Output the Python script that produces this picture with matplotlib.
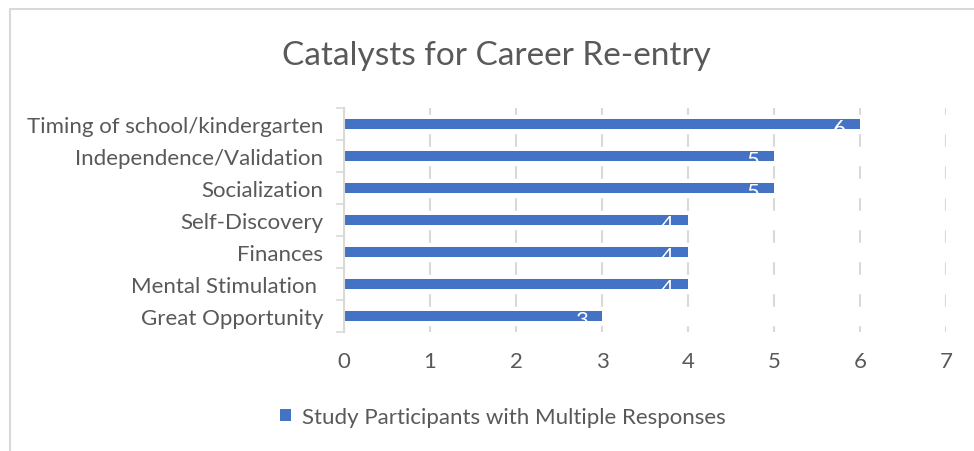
import matplotlib.pyplot as plt
from matplotlib.patches import Rectangle
import numpy as np

# Catalysts and counts (top to bottom as shown)
catalysts = ['Timing of school/kindergarten', 'Independence/Validation', 'Socialization',
             'Self-Discovery', 'Finances', 'Mental Stimulation ', 'Great Opportunity']
counts = [6, 5, 5, 4, 4, 4, 3]
series_name = 'Study Participants with Multiple Responses'

blue = '#4472C4'
grey_text = '#595959'
grid_col = '#D9D9D9'
plt.rcParams['font.family'] = ['Lato', 'DejaVu Sans']

fig = plt.figure(figsize=(9.74, 4.52), dpi=100)
ax = fig.add_axes([344 / 974, 1 - 333 / 452, (946 - 344) / 974, (333 - 109) / 452])

y = np.arange(len(catalysts))[::-1]
ax.set_xlim(0, 7)
ax.set_ylim(-0.5, len(catalysts) - 0.5)

# vertical gridlines, broken by a white band around each bar row
ax.set_axisbelow(True)
ax.set_xticks(range(0, 8))
ax.xaxis.grid(True, color=grid_col, linewidth=1.5)
for yi in y:
    ax.axhspan(yi - 0.27, yi + 0.27, color='white', zorder=1)

bars = ax.barh(y, counts, height=0.32, color=blue, zorder=2, label=series_name)

# white data labels at the inside end of each bar
for yi, v in zip(y, counts):
    ax.annotate(str(v), (v, yi), xytext=(-10, 4), textcoords='offset points',
                ha='right', va='top', color='white', fontsize=16, zorder=3)

# category labels between the tick marks
ax.set_yticks(y, minor=True)
ax.set_yticklabels(catalysts, minor=True)
ax.set_yticks(list(y + 0.5) + [-0.5])
ax.set_yticklabels([])
ax.tick_params(axis='y', which='major', length=6, width=1.2, color=grid_col, direction='out')
ax.tick_params(axis='y', which='minor', length=0, pad=15, labelsize=16, labelcolor=grey_text)
ax.tick_params(axis='x', length=0, pad=14, labelsize=16, labelcolor=grey_text)

for s in ['top', 'right', 'bottom']:
    ax.spines[s].set_visible(False)
ax.spines['left'].set_color(grid_col)
ax.spines['left'].set_linewidth(1.5)

fig.text(496 / 974, 1 - 56 / 452, 'Catalysts for Career Re-entry', ha='center', va='center',
         fontsize=24, color=grey_text)

fig.legend(handles=[bars], labels=[series_name], loc='center', bbox_to_anchor=(503 / 974, 1 - 418 / 452),
           frameon=False, fontsize=16, labelcolor=grey_text, handlelength=0.5, handleheight=0.5,
           handletextpad=0.5)

fig.patches.append(Rectangle((10 / 974, -0.1), 1.2, 1 - 10 / 452 + 0.1, transform=fig.transFigure,
                             fill=False, edgecolor=grid_col, linewidth=1.5))

plt.savefig('out.png', dpi=100)
